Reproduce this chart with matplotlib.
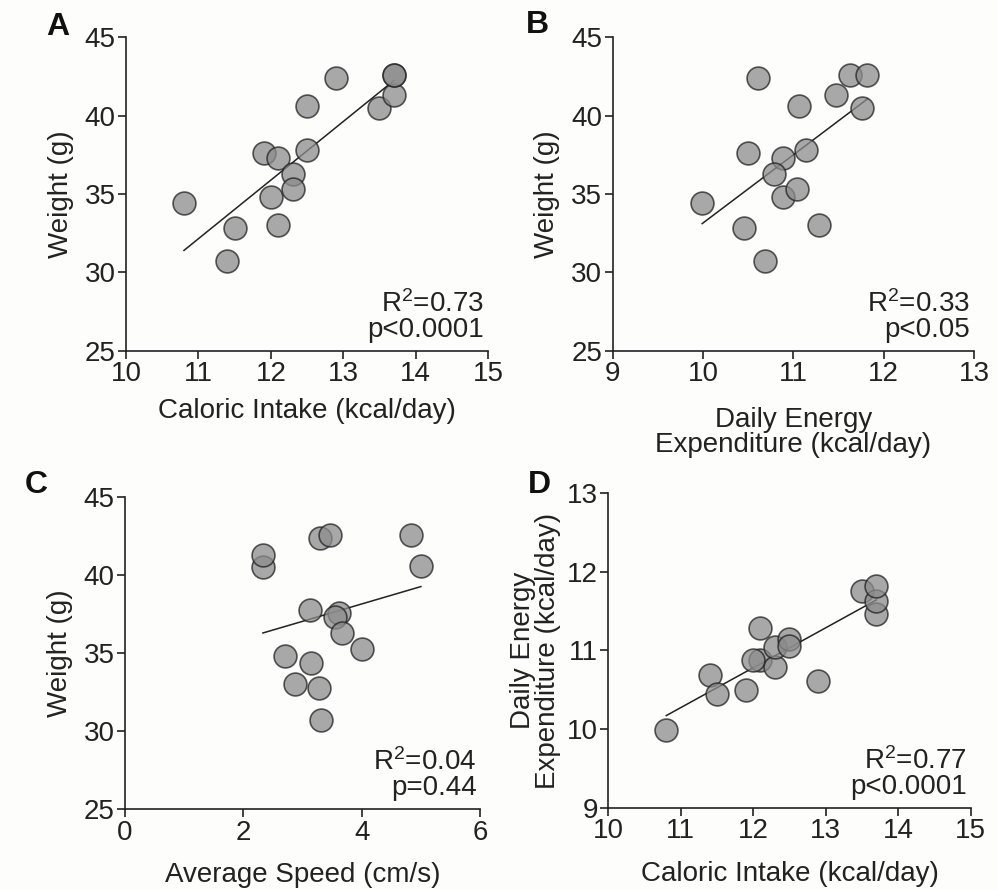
import numpy as np
import matplotlib
matplotlib.use("Agg")
import matplotlib.pyplot as plt

plt.rcParams["font.family"] = ["Liberation Sans", "DejaVu Sans"]
plt.rcParams["mathtext.default"] = "regular"

# one entry per mouse
weight = [34.4, 30.7, 32.8, 37.6, 37.3, 34.8, 33.0, 36.3, 35.3, 37.8, 40.6, 42.4, 40.5, 41.3, 42.6, 42.6]
intake = [10.8, 11.4, 11.5, 11.9, 12.1, 12.0, 12.1, 12.3, 12.3, 12.5, 12.5, 12.9, 13.5, 13.7, 13.7, 13.7]
dee = [9.99, 10.69, 10.45, 10.50, 10.88, 10.88, 11.28, 10.79, 11.04, 11.14, 11.06, 10.61, 11.76, 11.47, 11.63, 11.82]
speed = [3.15, 3.31, 3.27, 3.62, 3.55, 2.70, 2.87, 3.67, 4.01, 3.12, 5.00, 3.30, 2.33, 2.33, 3.46, 4.83]

stats = {"A": "R$^2$=0.73\np<0.0001", "B": "R$^2$=0.33\np<0.05",
         "C": "R$^2$=0.04\np=0.44", "D": "R$^2$=0.77\np<0.0001"}

fig = plt.figure(figsize=(9.98, 8.9), dpi=100)
fig.patch.set_facecolor("#fdfdfb")
FS = 20
INK = "#222222"

def panel(rect, x, y, xlim, ylim, xticks, yticks, xlabel, ylabel, letter, xlabelpad, ylabelpad):
    ax = fig.add_axes(rect)
    ax.set_facecolor("#fdfdfb")
    ax.scatter(x, y, s=270, facecolor="#8c8c8c", edgecolor=INK,
               linewidth=1.2, alpha=0.75, zorder=3, clip_on=False)
    m, b = np.polyfit(x, y, 1)
    xs = np.array([min(x), max(x)])
    ax.plot(xs, m * xs + b, color=INK, lw=1.1, zorder=2)
    ax.set_xlim(*xlim)
    ax.set_ylim(*ylim)
    ax.set_xticks(xticks)
    ax.set_yticks(yticks)
    for s in ["top", "right"]:
        ax.spines[s].set_visible(False)
    for s in ["left", "bottom"]:
        ax.spines[s].set_linewidth(1.2)
        ax.spines[s].set_color(INK)
    ax.tick_params(direction="out", length=6, width=1.2, color=INK,
                   labelsize=FS, pad=1.5, labelcolor=INK)
    ax.set_xlabel(xlabel, fontsize=FS, labelpad=xlabelpad, color=INK, linespacing=0.95)
    ax.set_ylabel(ylabel, fontsize=FS, labelpad=ylabelpad, color=INK, linespacing=0.95)
    ax.text(0.99, 0.025, stats[letter], transform=ax.transAxes, ha="right", va="bottom",
            fontsize=FS, linespacing=0.95, color=INK)
    return ax

panel([0.1263, 0.606, 0.3627, 0.352], intake, weight, (10, 15), (25, 45),
      [10, 11, 12, 13, 14, 15], [25, 30, 35, 40, 45],
      "Caloric Intake (kcal/day)", "Weight (g)", "A", 8, 8)
panel([0.614, 0.606, 0.362, 0.352], dee, weight, (9, 13), (25, 45),
      [9, 10, 11, 12, 13], [25, 30, 35, 40, 45],
      "Daily Energy\nExpenditure (kcal/day)", "Weight (g)", "B", 14, 8)
panel([0.1253, 0.0907, 0.3557, 0.3506], speed, weight, (0, 6), (25, 45),
      [0, 2, 4, 6], [25, 30, 35, 40, 45],
      "Average Speed (cm/s)", "Weight (g)", "C", 12, 8)
panel([0.6095, 0.0925, 0.3631, 0.3533], intake, dee, (10, 15), (9, 13),
      [10, 11, 12, 13, 14, 15], [9, 10, 11, 12, 13],
      "Caloric Intake (kcal/day)", "Daily Energy\nExpenditure (kcal/day)", "D", 12, 4)

for letter, (px, py) in {"A": (58, 27), "B": (537, 25), "C": (36, 485), "D": (539, 485)}.items():
    fig.text(px / 998, 1 - py / 890, letter, fontsize=23, fontweight="bold",
             ha="center", va="center", color="#111111")

fig.savefig("out.png", dpi=100, facecolor=fig.get_facecolor())
